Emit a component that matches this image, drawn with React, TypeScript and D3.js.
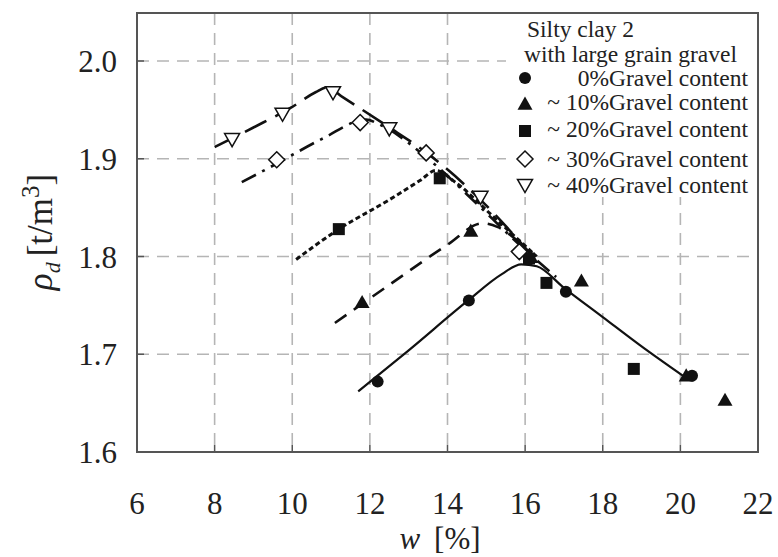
import React from "react";
import * as d3 from "d3";

// ---- data ----
const xTicks = [6, 8, 10, 12, 14, 16, 18, 20, 22];
const yTicks = [1.6, 1.7, 1.8, 1.9, 2.0];

// measured points
const w0 = [12.2, 14.55, 16.1, 17.05, 20.3];
const r0 = [1.672, 1.755, 1.797, 1.764, 1.678];
const w10 = [11.8, 14.6, 16.15, 17.45, 20.15, 21.15];
const r10 = [1.753, 1.826, 1.799, 1.775, 1.678, 1.653];
const w20 = [11.2, 13.8, 16.1, 16.55, 18.8];
const r20 = [1.828, 1.88, 1.798, 1.773, 1.685];
const w30 = [9.6, 11.75, 13.45, 15.85];
const r30 = [1.899, 1.937, 1.906, 1.805];
const w40 = [8.45, 9.75, 11.05, 12.5, 14.85];
const r40 = [1.92, 1.946, 1.968, 1.931, 1.861];

// fitted curves
const cw0 = [11.7, 13.0, 14.5, 15.4, 15.9, 16.3, 17.0, 18.0, 19.0, 20.1];
const cr0 = [1.662, 1.704, 1.754, 1.782, 1.792, 1.79, 1.768, 1.738, 1.708, 1.677];
const cw10 = [11.1, 12.5, 14.0, 14.9, 15.3, 16.2];
const cr10 = [1.732, 1.771, 1.812, 1.834, 1.83, 1.8];
const cw20 = [10.1, 11.2, 12.5, 13.3, 13.7, 14.2, 15.2, 16.3];
const cr20 = [1.797, 1.828, 1.858, 1.878, 1.888, 1.876, 1.84, 1.8];
const cw30 = [8.7, 9.6, 10.8, 11.9, 12.3, 13.5, 14.7, 15.8, 16.8];
const cr30 = [1.876, 1.895, 1.921, 1.94, 1.934, 1.9, 1.856, 1.814, 1.779];
const cw40 = [8.0, 9.0, 10.0, 10.6, 10.9, 11.3, 12.5, 13.5, 14.8, 16.2];
const cr40 = [1.912, 1.932, 1.953, 1.968, 1.973, 1.963, 1.932, 1.905, 1.86, 1.8];

const legendTitle = ["Silty clay 2", "with large grain gravel"];
const legendLabels = [
  "0%Gravel content",
  "~ 10%Gravel content",
  "~ 20%Gravel content",
  "~ 30%Gravel content",
  "~ 40%Gravel content",
];

const FONT = "'Liberation Serif'";

const L = 137, R = 758, T = 13, B = 452;
const x = d3.scaleLinear().domain([6, 22]).range([L, R]);
const y = d3.scaleLinear().domain([1.6, 2.0]).range([B, 61]);

type Kind = "circle" | "tri" | "square" | "diamond" | "tridown";

function Marker({ kind, cx, cy }: { kind: Kind; cx: number; cy: number }) {
  if (kind === "circle") return <circle cx={cx} cy={cy} r={6} fill="#111" />;
  if (kind === "square") return <rect x={cx - 6} y={cy - 6} width={12} height={12} fill="#111" />;
  if (kind === "tri") {
    const s = 7.5;
    return <path d={`M${cx},${cy - s}L${cx + s},${cy + s * 0.75}L${cx - s},${cy + s * 0.75}Z`} fill="#111" />;
  }
  if (kind === "diamond") {
    const s = 8;
    return (
      <path d={`M${cx},${cy - s}L${cx + s},${cy}L${cx},${cy + s}L${cx - s},${cy}Z`} fill="#fff" stroke="#111" strokeWidth={1.5} />
    );
  }
  const s = 7.5;
  return (
    <path d={`M${cx - s},${cy - s * 0.75}L${cx + s},${cy - s * 0.75}L${cx},${cy + s}Z`} fill="#fff" stroke="#111" strokeWidth={1.5} />
  );
}

export default function App() {
  const line = d3
    .line<[number, number]>()
    .x((d) => x(d[0]))
    .y((d) => y(d[1]))
    .curve(d3.curveMonotoneX);

  const zip = (a: number[], b: number[]) => a.map((v, i) => [v, b[i]] as [number, number]);

  const curves = [
    { pts: zip(cw0, cr0), dash: "none", sw: 2.2 },
    { pts: zip(cw10, cr10), dash: "14,9", sw: 2.6 },
    { pts: zip(cw20, cr20), dash: "5,3", sw: 3 },
    { pts: zip(cw30, cr30), dash: "16,7,3,7", sw: 2.6 },
    { pts: zip(cw40, cr40), dash: "24,10", sw: 2.6 },
  ];

  const series: { kind: Kind; pts: [number, number][] }[] = [
    { kind: "circle", pts: zip(w0, r0) },
    { kind: "tri", pts: zip(w10, r10) },
    { kind: "square", pts: zip(w20, r20) },
    { kind: "diamond", pts: zip(w30, r30) },
    { kind: "tridown", pts: zip(w40, r40) },
  ];

  const legendMarkerY = [78, 104, 131, 159, 185];
  const legendTextY = [86, 110, 137, 167, 193];

  return (
    <div style={{ fontFamily: FONT }}>
      <svg width={778} height={557} fontFamily={FONT} style={{ display: "block", position: "absolute", left: 0, top: 0 }}>
        <rect x={0} y={0} width={778} height={557} fill="#fff" />
        {/* grid */}
        {xTicks.slice(1, -1).map((t) => (
          <line key={"gx" + t} x1={x(t)} x2={x(t)} y1={T} y2={B} stroke="#b5b5b5" strokeWidth={1.6} strokeDasharray="12,8" />
        ))}
        {yTicks.slice(1).map((t) => (
          <line key={"gy" + t} x1={L} x2={R} y1={y(t)} y2={y(t)} stroke="#b5b5b5" strokeWidth={1.6} strokeDasharray="12,8" />
        ))}
        {/* legend background */}
        <rect x={506} y={T} width={R - 506} height={184} fill="#fff" />
        {/* curves */}
        {curves.map((c, i) => (
          <path key={"c" + i} d={line(c.pts) || ""} fill="none" stroke="#111" strokeWidth={c.sw} strokeDasharray={c.dash} />
        ))}
        {/* markers */}
        {series.map((s, i) =>
          s.pts.map((p, j) => <Marker key={`m${i}-${j}`} kind={s.kind} cx={x(p[0])} cy={y(p[1])} />)
        )}
        {/* frame */}
        <rect x={L} y={T} width={R - L} height={B - T} fill="none" stroke="#555" strokeWidth={2} />
        {/* ticks */}
        {xTicks.slice(1, -1).map((t) => (
          <line key={"tx" + t} x1={x(t)} x2={x(t)} y1={B} y2={B - 7} stroke="#555" strokeWidth={1.5} />
        ))}
        {yTicks.slice(1).map((t) => (
          <line key={"ty" + t} x1={L} x2={L + 7} y1={y(t)} y2={y(t)} stroke="#555" strokeWidth={1.5} />
        ))}
        {/* tick labels */}
        {xTicks.map((t) => (
          <text key={"lx" + t} x={x(t)} y={514} textAnchor="middle" fontSize={31} fill="#222">
            {t}
          </text>
        ))}
        {yTicks.map((t) => (
          <text key={"ly" + t} x={117} y={y(t) + 11} textAnchor="end" fontSize={31} fill="#222">
            {t.toFixed(1)}
          </text>
        ))}
        {/* axis titles */}
        <text x={440} y={549} textAnchor="middle" fontSize={31} fill="#222">
          <tspan fontStyle="italic">w</tspan>
          <tspan dx={14}>[%]</tspan>
        </text>
        <g transform="translate(52,232) rotate(-90)">
          <text x={0} y={0} textAnchor="middle" fontSize={35} fill="#222">
            <tspan fontStyle="italic">ρ</tspan>
            <tspan fontStyle="italic" fontSize={22} dy={8}>d</tspan>
            <tspan dy={-8} dx={6}>[t/m</tspan>
            <tspan fontSize={25} dy={-13}>3</tspan>
            <tspan dy={13}>]</tspan>
          </text>
        </g>
        {/* legend */}
        <text x={527} y={37} fontSize={23.5} fill="#222">{legendTitle[0]}</text>
        <text x={524} y={62} fontSize={23.5} fill="#222">{legendTitle[1]}</text>
        {legendLabels.map((lab, i) => (
          <g key={"lg" + i}>
            <Marker kind={series[i].kind} cx={525} cy={legendMarkerY[i]} />
            <text x={748} y={legendTextY[i]} textAnchor="end" fontSize={23.5} fill="#222">
              {lab}
            </text>
          </g>
        ))}
      </svg>
    </div>
  );
}
